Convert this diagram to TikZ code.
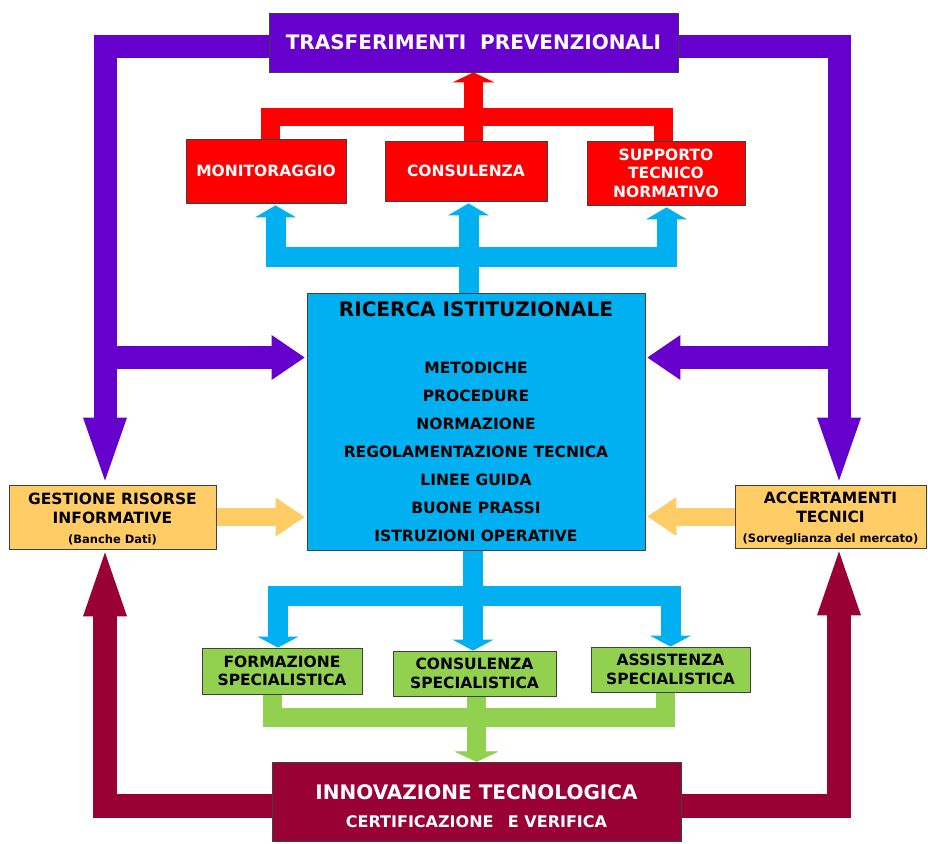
\documentclass[tikz,border=0pt]{standalone}
\usepackage{fontspec}
\setmainfont{DejaVu Sans}
\usetikzlibrary{arrows.meta, backgrounds}
\definecolor{trasf}   {HTML}{6600CC}
\definecolor{rosso}   {HTML}{FF0000}
\definecolor{celeste} {HTML}{00B0F0}
\definecolor{giallo}  {HTML}{FFCC66}
\definecolor{verde}   {HTML}{92D050}
\definecolor{bordeaux}{HTML}{990033}

\begin{document}
\begin{tikzpicture}[x=1pt, y=-1pt,
    box/.style={draw=black!75, line width=0.8pt, inner sep=0pt, align=center},
    bigtxt/.style={font=\bfseries\fontsize{20}{24}\selectfont},
    midtxt/.style={font=\bfseries\fontsize{15.5}{18.5}\selectfont},
    band/.style={draw=#1, line width=20pt, line join=miter},
    arrowhead/.style 2 args={-{Triangle[width=#1, length=#2, line width=0pt]}}]
  \useasboundingbox (0,0) rectangle (928,843);

  % boxes
  \node[box, bigtxt, fill=trasf, text=white, minimum width=409pt, minimum height=59pt] (ttl) at (473.5,42.5)
    {TRASFERIMENTI\ \ PREVENZIONALI};
  \node[box, midtxt, fill=rosso, text=white, minimum width=160pt, minimum height=64pt] (mon) at (266,171) {MONITORAGGIO};
  \node[box, midtxt, fill=rosso, text=white, minimum width=162pt, minimum height=60pt] (con) at (466,171) {CONSULENZA};
  \node[box, midtxt, fill=rosso, text=white, minimum width=158pt, minimum height=64pt] (sup) at (666,173)
    {SUPPORTO\\TECNICO\\NORMATIVO};
  \node[box, fill=celeste, minimum width=338pt, minimum height=257pt, font=\bfseries\fontsize{15.5}{28}\selectfont] (ric) at (476,421.5)
    {{\fontsize{20}{28}\selectfont RICERCA ISTITUZIONALE}\\[29.6pt]
     METODICHE\\PROCEDURE\\NORMAZIONE\\REGOLAMENTAZIONE TECNICA\\LINEE GUIDA\\BUONE PRASSI\\ISTRUZIONI OPERATIVE};
  \node[box, midtxt, fill=giallo, minimum width=207pt, minimum height=64pt] (gest) at (112.5,517)
    {\rule{0pt}{16pt}GESTIONE RISORSE\\INFORMATIVE\\[2pt]{\fontsize{11.5}{14}\selectfont (Banche Dati)}};
  \node[box, midtxt, fill=giallo, minimum width=191pt, minimum height=63pt] (acc) at (830.5,516.5)
    {\rule{0pt}{16pt}ACCERTAMENTI\\TECNICI\\[2pt]{\fontsize{11.5}{14}\selectfont (Sorveglianza del mercato)}};
  \node[box, midtxt, fill=verde, minimum width=160pt, minimum height=46pt] (form) at (282,671) {FORMAZIONE\\SPECIALISTICA};
  \node[box, midtxt, fill=verde, minimum width=163pt, minimum height=45pt] (cons2) at (474.5,673.5) {CONSULENZA\\SPECIALISTICA};
  \node[box, midtxt, fill=verde, minimum width=159pt, minimum height=45pt] (assi) at (670.5,669.5) {ASSISTENZA\\SPECIALISTICA};
  \node[box, fill=bordeaux, text=white, minimum width=409pt, minimum height=79pt, font=\bfseries\fontsize{16}{28.4}\selectfont] (innov) at (476.5,801.5)
    {{\fontsize{20}{28.4}\selectfont\rule{0pt}{24.6pt}INNOVAZIONE TECNOLOGICA}\\CERTIFICAZIONE\hspace{0.9em}E VERIFICA};

  \coordinate (lv) at ([xshift=-7.5pt]gest.north);
  \coordinate (rv) at ([xshift=8.5pt]acc.north);
  \coordinate (pin) at ([yshift=64pt]ric.west);
  \coordinate (pout) at ([yshift=64pt]ric.east);
  \coordinate (rbar) at (0,117);
  \coordinate (bup) at (0,257);
  \coordinate (bdown) at (0,595.5);
  \coordinate (gbar) at (0,717);

  \begin{scope}[on background layer]
    % trasferimenti
    \draw[band=trasf, line width=23pt, arrowhead={44pt}{63pt}, shorten >=4pt] ([yshift=-4pt]ttl.west) -| (lv);
    \draw[band=trasf, line width=23pt, arrowhead={44pt}{63pt}, shorten >=4pt] ([yshift=-4pt]ttl.east) -| (rv);
    \draw[band=trasf, line width=23pt, arrowhead={45pt}{33pt}, shorten >=2pt] (lv |- pin) -- (pin);
    \draw[band=trasf, line width=23pt, arrowhead={45pt}{33pt}, shorten >=2pt] (rv |- pout) -- (pout);
    % rosso
    \draw[band=rosso, line width=18.5pt] ([xshift=4.5pt]mon.north) |- ([xshift=-2.5pt]sup.north |- rbar) -- ([xshift=-2.5pt]sup.north);
    \draw[band=rosso, line width=19pt, arrowhead={42pt}{10pt}] (con.north -| ttl.south) -- (ttl.south);
    % ricerca verso l'alto
    \draw[band=celeste, arrowhead={41pt}{12pt}, shorten >=2pt] ([xshift=-7.5pt]ric.north) |- ([xshift=9.5pt]mon.south |- bup) -- ([xshift=9.5pt]mon.south);
    \draw[band=celeste, arrowhead={41pt}{12pt}, shorten >=2pt] ([xshift=-7.5pt]ric.north) -- ([xshift=-7.5pt]ric.north |- con.south);
    \draw[band=celeste, arrowhead={41pt}{12pt}, shorten >=2pt] ([xshift=-7.5pt]ric.north) |- ([xshift=0.5pt]sup.south |- bup) -- ([xshift=0.5pt]sup.south);
    % ricerca verso il basso
    \draw[band=celeste, arrowhead={41pt}{11pt}] ([xshift=-3pt]ric.south) |- ([xshift=-4pt]form.north |- bdown) -- ([xshift=-4pt]form.north);
    \draw[band=celeste, arrowhead={41pt}{11pt}] ([xshift=-3pt]ric.south) -- ([xshift=-3pt]ric.south |- cons2.north);
    \draw[band=celeste, arrowhead={41pt}{11pt}] ([xshift=-3pt]ric.south) |- (assi.north |- bdown) -- (assi.north);
    % verde
    \draw[band=verde, line width=19pt, arrowhead={43pt}{10pt}] ([xshift=-10pt]form.south) |- (innov.north |- gbar) -- (innov.north);
    \draw[band=verde, line width=19pt, arrowhead={43pt}{10pt}] ([xshift=-5pt]assi.south) |- (innov.north |- gbar) -- (innov.north);
    \draw[band=verde, line width=19pt, arrowhead={43pt}{10pt}] (innov.north |- cons2.south) -- (innov.north);
    % giallo
    \draw[band=giallo, line width=18pt, arrowhead={39pt}{29pt}, shorten >=2pt] (gest.east) -- (gest.east -| ric.west);
    \draw[band=giallo, line width=18pt, arrowhead={39pt}{29pt}, shorten >=2pt] (acc.west) -- (acc.west -| ric.east);
    % innovazione
    \draw[band=bordeaux, line width=24pt, arrowhead={44pt}{64pt}, shorten >=3pt] ([yshift=-4.5pt]innov.west) -| (lv |- gest.south);
    \draw[band=bordeaux, line width=24pt, arrowhead={44pt}{64pt}, shorten >=3pt] ([yshift=-4.5pt]innov.east) -| (rv |- acc.south);
  \end{scope}
\end{tikzpicture}
\end{document}
